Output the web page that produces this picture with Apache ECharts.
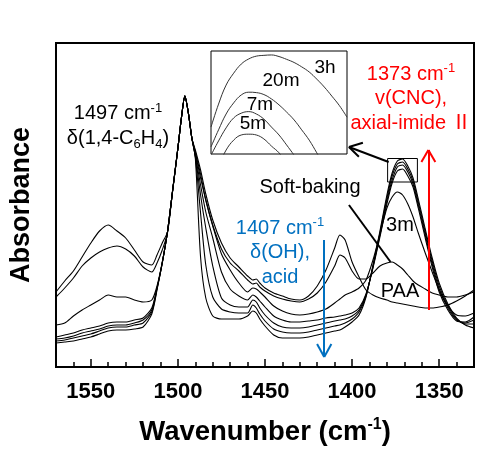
<!DOCTYPE html>
<html><head><meta charset="utf-8">
<script src="https://cdn.jsdelivr.net/npm/echarts@6/dist/echarts.min.js"></script>
<style>html,body{margin:0;padding:0;background:#fff}#c{width:496px;height:451px}</style>
</head><body><div id="c"></div>
<script>
// Wavenumber sampling (cm-1)
const wavenumbers = [1570,1565,1560,1555,1550,1545,1540,1535,1530,1525,1520,1515,1512,1509,1506,1503,1500,1498,1496,1494,1492,1490,1487,1484,1480,1475,1470,1465,1460,1457,1455,1453,1450,1445,1440,1435,1430,1425,1420,1415,1410,1407,1404,1400,1396,1392,1388,1384,1380,1377,1374,1371,1368,1365,1362,1358,1354,1350,1345,1340,1335,1330];
// Absorbance (arbitrary units)
const PAA = [75,86,96,110,124,136,142,136,129,117,105,102,112,124,135,177,219,249,271,254,229,217,197,173,147,124,109,100,91,87,88,84,79,74,71,68,67,71,81,97,119,132,127,105,90,77,72,69,67,65,64,63,62,61,60,59,59,60,62,66,71,77];
const softBaking = [70,79,89,101,109,115,119,121,118,111,100,95,104,117,134,177,219,249,271,254,229,215,193,167,142,118,104,96,87,83,84,80,76,71,68,66,65,68,74,85,101,112,109,96,88,88,94,101,104,105,102,98,92,86,82,78,74,72,70,70,72,75];
const min3 = [42,44,51,57,62,67,72,70,70,67,65,67,81,105,135,177,219,249,271,254,229,214,189,167,141,113,97,84,75,79,78,75,70,61,56,53,52,53,55,58,64,68,72,75,79,87,107,133,159,170,175,172,163,150,134,114,95,77,61,52,51,54];
const min5 = [30,32,34,37,39,41,44,45,45,47,49,59,79,104,135,177,219,249,271,254,229,212,182,155,129,95,78,71,67,72,70,66,60,51,47,45,45,46,47,49,50,51,52,54,59,73,99,130,163,184,196,198,191,180,159,129,100,75,57,46,45,50];
const min7 = [28,29,31,34,36,38,41,42,42,44,47,57,79,104,135,177,219,249,271,254,229,211,172,139,101,69,62,60,60,67,65,59,52,44,40,39,39,40,42,44,46,47,48,51,57,72,100,132,166,187,200,202,195,183,162,132,103,78,59,47,44,47];
const min20 = [26,27,29,31,33,36,39,40,40,42,44,55,78,104,135,177,219,249,271,254,229,210,154,102,70,58,55,54,54,62,59,53,46,38,35,34,34,35,37,39,41,42,44,48,55,71,101,134,169,191,203,205,198,186,165,135,106,81,61,48,43,43];
const hr3 = [24,25,26,28,30,33,36,37,37,38,40,53,77,104,135,177,219,249,271,254,229,209,110,69,51,48,48,48,51,56,54,48,41,32,29,29,29,30,32,34,36,37,40,45,52,70,102,136,172,194,206,208,201,189,168,138,109,84,63,49,42,39];
const seriesNames = ['PAA','Soft-baking','3m','5m','7m','20m','3h'];
const seriesValues = [PAA, softBaking, min3, min5, min7, min20, hr3];
const xTickLabels = [1550,1500,1450,1400,1350];

// Inset (magnified view of the 1373 cm-1 peak top)
const insetWavenumbers = [1380,1379,1378,1377,1376,1375,1374,1373,1372,1371,1370,1369,1368,1367,1366,1365,1364,1363,1362];
const inset3h = [192.8,198.6,203.4,206.4,208.7,210.0,210.7,210.9,211.0,210.6,209.9,209.1,208.0,206.7,204.9,202.9,200.6,198.2,195.3];
const inset20m = [187.8,192.1,196.1,198.9,200.9,201.6,201.5,201.0,199.9,198.4,196.6,194.6,192.1,189.5,186.3,183.0];
const inset7m = [185.7,189.3,192.6,195.1,196.3,196.7,196.1,194.8,192.8,190.8,188.3,185.7,183.0];
const inset5m = [179.0,183.0,187.0,189.5,190.8,191.0,190.8,189.8,188.0,186.3,183.7];
const insetNames = ['3h','20m','7m','5m'];
const insetValues = [inset3h, inset20m, inset7m, inset5m];

const FF = '"Liberation Sans", Arial, "Noto Sans CJK JP", sans-serif';
const chart = echarts.init(document.getElementById('c'), null, {renderer:'canvas'});

const blue = '#0070c0', red = '#ff0000';
const seg = (a, b, color, w) => [{coord:a, lineStyle:{color:color, width:w, type:'solid'}}, {coord:b}];

const mainSeries = seriesValues.map((vals, k) => {
  const s = {
    name: seriesNames[k], type:'line', xAxisIndex:0, yAxisIndex:0,
    data: wavenumbers.map((w,i)=>[w, vals[i]]),
    showSymbol:false, symbol:'none', smooth:0.25, silent:true,
    lineStyle:{color:'#000', width:1.1}, z:3
  };
  if (k === 0) {
    s.markLine = {
      silent:true, symbol:['none','none'], label:{show:false}, animation:false,
      data:[
        seg([1416,127],[1416,10],blue,2),
        seg([1420.1,23],[1416,10],blue,2),
        seg([1411.9,23],[1416,10],blue,2),
        seg([1356.2,57],[1356.2,217],red,2),
        seg([1360.2,205],[1356.2,217],red,2),
        seg([1352.2,205],[1356.2,217],red,2),
        seg([1379,205],[1401.8,220],'#000',2),
        seg([1393.8,224.3],[1401.8,220],'#000',2),
        seg([1396.1,210.3],[1401.8,220],'#000',2),
        seg([1401.8,162],[1377.9,105],'#000',2)
      ]
    };
    s.markArea = {
      silent:true, animation:false,
      data:[[{coord:[1379.6,208.5], itemStyle:{color:'rgba(0,0,0,0)', borderColor:'#000', borderWidth:1}}, {coord:[1362.5,185]}]]
    };
  }
  return s;
});

const insetSeries = insetValues.map((vals,k)=>({
  name:'inset '+insetNames[k], type:'line', xAxisIndex:2, yAxisIndex:1,
  data: vals.map((v,i)=>[insetWavenumbers[i], v]),
  showSymbol:false, symbol:'none', smooth:0.4, silent:true, clip:true,
  lineStyle:{color:'#333', width:1}, z:5
}));

const txt = (x, y, text, rich, fill) => ({
  type:'text', x:x, y:y, z:10, silent:true,
  style:{text:text, rich:rich, align:'center', verticalAlign:'middle', fill:fill||'#000', font:'20px '+FF}
});
const richFor = (c) => ({
  t:{fontSize:20, fontFamily:FF, lineHeight:24.5, fill:c},
  sup:{fontSize:13, fontFamily:FF, lineHeight:24.5, verticalAlign:'top', fill:c, padding:[0,0,8,0]},
  sub:{fontSize:13, fontFamily:FF, lineHeight:24.5, verticalAlign:'bottom', fill:c, padding:[6,0,0,0]}
});

chart.setOption({
  animation:false,
  backgroundColor:'#fff',
  grid:[
    {left:53, top:43, width:421, height:324, show:true, borderColor:'#000', borderWidth:2, backgroundColor:'rgba(0,0,0,0)'},
    {left:211, top:51, width:136, height:103, show:true, borderColor:'#000', borderWidth:1, backgroundColor:'#fff', z:4}
  ],
  xAxis:[
    {gridIndex:0, type:'value', min:1330, max:1570, interval:10, inverse:true,
     name:'{a|Wavenumber (cm}{s|-1}{a|)}', nameLocation:'middle', nameGap:50,
     nameTextStyle:{rich:{a:{fontSize:27.5, fontWeight:'bold', fontFamily:FF, color:'#000', lineHeight:30},
                          s:{fontSize:16, fontWeight:'bold', fontFamily:FF, color:'#000', verticalAlign:'top', lineHeight:30, padding:[0,0,10,0]}}},
     axisLine:{show:false}, splitLine:{show:false},
     axisTick:{show:true, inside:true, length:8, customValues:xTickLabels, lineStyle:{color:'#000', width:1.5}},
     axisLabel:{show:true, customValues:xTickLabels, margin:14, fontSize:22, fontWeight:'bold', fontFamily:FF, color:'#000',
                formatter:(v)=>String(v)}},
    {gridIndex:0, type:'value', min:1330, max:1570, interval:10, inverse:true, position:'bottom',
     axisLine:{show:false}, splitLine:{show:false}, axisLabel:{show:false},
     axisTick:{show:true, inside:true, length:5, lineStyle:{color:'#000', width:1.5}}},
    {gridIndex:1, type:'value', min:1362, max:1380, inverse:true, show:false}
  ],
  yAxis:[
    {gridIndex:0, type:'value', min:0, max:324, name:'Absorbance', nameLocation:'middle', nameGap:21,
     nameTextStyle:{fontSize:27, fontWeight:'bold', fontFamily:FF, color:'#000'},
     axisLine:{show:false}, axisTick:{show:false}, axisLabel:{show:false}, splitLine:{show:false}},
    {gridIndex:1, type:'value', min:186, max:212, show:false}
  ],
  series: mainSeries.concat(insetSeries),
  graphic:[
    txt(118,126,'{t|1497 cm}{sup|-1}\n{t|δ(1,4-C}{sub|6}{t|H}{sub|4}{t|)}', richFor('#000')),
    txt(411,98.5,'{t|1373 cm}{sup|-1}\n{t|v(CNC),}\n{t|axial-imide Ⅱ}', richFor(red), red),
    txt(280,252.5,'{t|1407 cm}{sup|-1}\n{t|δ(OH),}\n{t|acid}', richFor(blue), blue),
    txt(310,187,'Soft-baking'),
    txt(400,225,'3m'),
    txt(400,291,'PAA'),
    {type:'text', x:325, y:68, z:10, silent:true, style:{text:'3h', align:'center', verticalAlign:'middle', fill:'#000', font:'19px '+FF}},
    {type:'text', x:281, y:81, z:10, silent:true, style:{text:'20m', align:'center', verticalAlign:'middle', fill:'#000', font:'19px '+FF}},
    {type:'text', x:260, y:105, z:10, silent:true, style:{text:'7m', align:'center', verticalAlign:'middle', fill:'#000', font:'19px '+FF}},
    {type:'text', x:253, y:124, z:10, silent:true, style:{text:'5m', align:'center', verticalAlign:'middle', fill:'#000', font:'19px '+FF}}
  ]
});
</script></body></html>
